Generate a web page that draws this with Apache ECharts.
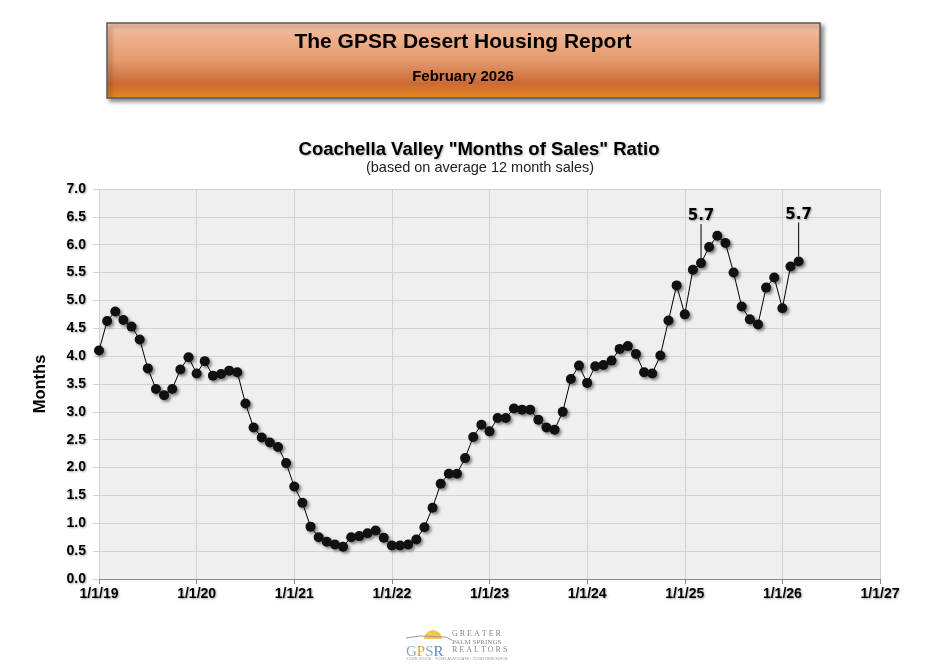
<!DOCTYPE html>
<html>
<head>
<meta charset="utf-8">
<script src="https://cdn.jsdelivr.net/npm/echarts@6.0.0/dist/echarts.min.js"></script>
<style>
  html, body { margin: 0; padding: 0; background: #fff; }
  #chart { width: 937px; height: 671px; }
</style>
</head>
<body>
<div id="chart"></div>
<script>
var chart = echarts.init(document.getElementById('chart'));

// monthly "months of sales" ratio, Jan 2019 .. Mar 2026
var ratio2019 = [4.10, 4.63, 4.80, 4.65, 4.53, 4.30, 3.78, 3.41, 3.30, 3.41, 3.76, 3.98];
var ratio2020 = [3.69, 3.91, 3.65, 3.68, 3.74, 3.71, 3.15, 2.72, 2.54, 2.45, 2.37, 2.08];
var ratio2021 = [1.66, 1.37, 0.94, 0.75, 0.67, 0.62, 0.58, 0.75, 0.77, 0.82, 0.87, 0.74];
var ratio2022 = [0.60, 0.60, 0.62, 0.71, 0.93, 1.28, 1.71, 1.89, 1.89, 2.17, 2.55, 2.77];
var ratio2023 = [2.65, 2.89, 2.89, 3.06, 3.04, 3.04, 2.86, 2.72, 2.68, 3.00, 3.59, 3.83];
var ratio2024 = [3.52, 3.82, 3.84, 3.92, 4.13, 4.18, 4.04, 3.71, 3.69, 4.01, 4.64, 5.27];
var ratio2025 = [4.75, 5.55, 5.67, 5.96, 6.16, 6.03, 5.50, 4.89, 4.66, 4.57, 5.23, 5.41];
var ratio2026 = [4.86, 5.61, 5.70];

var xTickLabels = ['1/1/19', '1/1/20', '1/1/21', '1/1/22', '1/1/23', '1/1/24', '1/1/25', '1/1/26', '1/1/27'];
var labeledMonths = [74, 86]; // Mar 2025, Mar 2026

var ratios = [].concat(ratio2019, ratio2020, ratio2021, ratio2022, ratio2023, ratio2024, ratio2025, ratio2026);

var seriesData = ratios.map(function (v, i) {
    var item = { value: [i, v] };
    if (labeledMonths.indexOf(i) >= 0) {
        item.label = { show: true };
        item.labelLine = { show: true };
    }
    return item;
});

var shadowText = {
    textShadowColor: 'rgba(0,0,0,0.35)',
    textShadowBlur: 2,
    textShadowOffsetX: 1,
    textShadowOffsetY: 1
};

var option = {
    backgroundColor: '#ffffff',
    animation: false,
    textStyle: { fontFamily: 'Liberation Sans, Arial, sans-serif' },
    grid: {
        left: 99, right: 57, top: 189, bottom: 92,
        show: true,
        backgroundColor: '#efefef',
        borderWidth: 0
    },
    graphic: [
        // report header box
        {
            type: 'rect',
            shape: { x: 107, y: 23, width: 713, height: 75 },
            style: {
                fill: new echarts.graphic.LinearGradient(0, 0, 0, 1, [
                    { offset: 0, color: '#f7cdb2' },
                    { offset: 0.15, color: '#f0b491' },
                    { offset: 0.5, color: '#e39a6e' },
                    { offset: 0.8, color: '#cc6a36' },
                    { offset: 0.9, color: '#d9772a' },
                    { offset: 1, color: '#e88d1f' }
                ]),
                stroke: '#5a5a5a',
                lineWidth: 1.5,
                shadowColor: 'rgba(0,0,0,0.45)',
                shadowBlur: 4,
                shadowOffsetX: 3,
                shadowOffsetY: 3
            }
        },
        {
            type: 'text', x: 463, y: 42,
            style: {
                text: 'The GPSR Desert Housing Report',
                fill: '#000', font: 'bold 21px "Liberation Sans", Arial',
                align: 'center', verticalAlign: 'middle'
            }
        },
        {
            type: 'text', x: 463, y: 77,
            style: {
                text: 'February 2026',
                fill: '#000', font: 'bold 15px "Liberation Sans", Arial',
                align: 'center', verticalAlign: 'middle'
            }
        },
        // chart title
        {
            type: 'text', x: 479, y: 150,
            style: {
                text: 'Coachella Valley "Months of Sales" Ratio',
                fill: '#000', font: 'bold 18.5px "Liberation Sans", Arial',
                align: 'center', verticalAlign: 'middle',
                textShadowColor: 'rgba(0,0,0,0.3)', textShadowBlur: 2,
                textShadowOffsetX: 1, textShadowOffsetY: 1
            }
        },
        {
            type: 'text', x: 480, y: 168,
            style: {
                text: '(based on average 12 month sales)',
                fill: '#222', font: '14.5px "Liberation Sans", Arial',
                align: 'center', verticalAlign: 'middle'
            }
        },
        // logo
        {
            type: 'sector', shape: { cx: 433, cy: 639, r0: 0, r: 9, startAngle: Math.PI, endAngle: 2 * Math.PI },
            style: { fill: '#f3c84a' }
        },
        {
            type: 'polyline', shape: { points: [[406, 638], [420, 636], [446, 637], [452, 640]] },
            style: { stroke: '#9a9a9a', lineWidth: 1, fill: null }
        },
        {
            type: 'text', x: 406, y: 652,
            style: {
                rich: {
                    g: { fill: '#8ea8c0', font: '15px "Liberation Serif", serif' },
                    p: { fill: '#e8a030', font: '15px "Liberation Serif", serif' },
                    s: { fill: '#8ea8c0', font: '15px "Liberation Serif", serif' },
                    r: { fill: '#5d87b5', font: '15px "Liberation Serif", serif' }
                },
                text: '{g|G}{p|P}{s|S}{r|R}',
                verticalAlign: 'middle'
            }
        },
        {
            type: 'text', x: 452, y: 634,
            style: { text: 'G R E A T E R', fill: '#888', font: '8px "Liberation Serif", serif', verticalAlign: 'middle' }
        },
        {
            type: 'text', x: 452, y: 642,
            style: { text: 'PALM SPRINGS', fill: '#888', font: '7px "Liberation Serif", serif', verticalAlign: 'middle' }
        },
        {
            type: 'text', x: 452, y: 650,
            style: { text: 'R E A L T O R S', fill: '#888', font: '8px "Liberation Serif", serif', verticalAlign: 'middle' }
        },
        {
            type: 'text', x: 406, y: 659,
            style: { text: 'YOUR VOICE · YOUR ADVOCATE · YOUR RESOURCE', fill: '#999', font: '4px "Liberation Sans", Arial', verticalAlign: 'middle' }
        }
    ],
    xAxis: {
        type: 'value',
        min: 0, max: 96, interval: 12,
        axisLine: { show: true, lineStyle: { color: '#8a8a8a', width: 1 } },
        axisTick: { show: true, length: 5, lineStyle: { color: '#8a8a8a' } },
        splitLine: { show: true, lineStyle: { color: '#d2d2d2', width: 1 } },
        axisLabel: Object.assign({
            margin: 8,
            color: '#000',
            fontWeight: 'bold',
            fontSize: 14,
            fontFamily: 'Liberation Sans, Arial',
            formatter: function (v) { return xTickLabels[Math.round(v / 12)]; }
        }, shadowText)
    },
    yAxis: {
        type: 'value',
        min: 0, max: 7, interval: 0.5,
        name: 'Months',
        nameLocation: 'middle',
        nameGap: 50,
        nameTextStyle: { color: '#000', fontWeight: 'bold', fontSize: 16.5, fontFamily: 'Liberation Sans, Arial' },
        axisLine: { show: true, lineStyle: { color: '#d2d2d2' } },
        axisTick: { show: true, length: 6, lineStyle: { color: '#d2d2d2' } },
        splitLine: { show: true, lineStyle: { color: '#d2d2d2', width: 1 } },
        axisLabel: Object.assign({
            margin: 13,
            color: '#000',
            fontWeight: 'bold',
            fontSize: 14,
            fontFamily: 'Liberation Sans, Arial',
            formatter: function (v) { return v.toFixed(1); }
        }, shadowText)
    },
    series: [{
        type: 'line',
        data: seriesData,
        symbol: 'circle',
        symbolSize: 10,
        lineStyle: { color: '#000', width: 1 },
        itemStyle: {
            color: '#111',
            shadowColor: 'rgba(0,0,0,0.45)',
            shadowBlur: 3,
            shadowOffsetX: 2,
            shadowOffsetY: 2
        },
        label: Object.assign({
            show: false,
            position: 'top',
            color: '#000',
            fontWeight: 'bold',
            fontSize: 15,
            fontFamily: 'DejaVu Sans, Verdana',
            formatter: function (p) { return p.value[1].toFixed(1); }
        }, shadowText),
        labelLine: { show: false, lineStyle: { color: '#000', width: 1 } },
        labelLayout: { dy: -29 }
    }]
};

chart.setOption(option);
</script>
</body>
</html>
